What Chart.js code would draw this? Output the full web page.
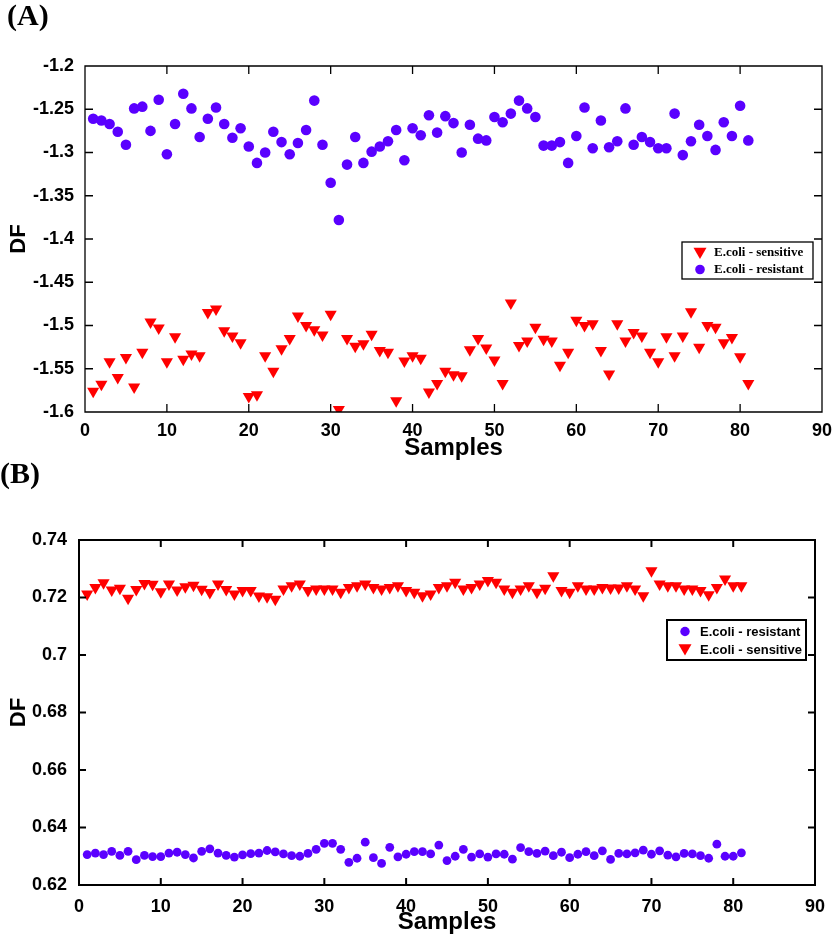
<!DOCTYPE html>
<html><head><meta charset="utf-8">
<script src="https://cdn.jsdelivr.net/npm/chart.js@4.4.1/dist/chart.umd.min.js"></script>
<style>
html,body{margin:0;padding:0;background:#fff;overflow:hidden;width:833px;height:934px;}
#wrapA{position:absolute;left:0;top:0;width:833px;height:460px;}
#wrapB{position:absolute;left:0;top:460px;width:833px;height:474px;}
canvas{display:block;}
</style></head><body>
<div id="wrapA"><canvas id="chartA" width="833" height="460"></canvas></div>
<div id="wrapB"><canvas id="chartB" width="833" height="474"></canvas></div>
<script>
// ---------- data ----------
const samples = [1,2,3,4,5,6,7,8,9,10,11,12,13,14,15,16,17,18,19,20,21,22,23,24,25,26,27,28,29,30,
  31,32,33,34,35,36,37,38,39,40,41,42,43,44,45,46,47,48,49,50,51,52,53,54,55,56,57,58,59,60,
  61,62,63,64,65,66,67,68,69,70,71,72,73,74,75,76,77,78,79,80,81];

// Panel (A)
const sensitiveA = [-1.576,-1.568,-1.542,-1.560,-1.537,-1.571,-1.531,-1.496,-1.503,-1.542,
  -1.513,-1.539,-1.533,-1.535,-1.485,-1.481,-1.506,-1.512,-1.520,-1.582,
  -1.580,-1.535,-1.553,-1.527,-1.515,-1.489,-1.500,-1.505,-1.511,-1.487,
  -1.597,-1.515,-1.524,-1.521,-1.510,-1.529,-1.531,-1.587,-1.541,-1.535,
  -1.538,-1.577,-1.567,-1.553,-1.557,-1.558,-1.528,-1.515,-1.526,-1.540,
  -1.567,-1.474,-1.523,-1.518,-1.502,-1.516,-1.518,-1.546,-1.531,-1.494,
  -1.500,-1.498,-1.529,-1.556,-1.498,-1.518,-1.508,-1.512,-1.531,-1.542,
  -1.513,-1.535,-1.512,-1.484,-1.525,-1.500,-1.502,-1.520,-1.514,-1.536,-1.567];
const resistantA = [-1.261,-1.263,-1.267,-1.276,-1.291,-1.249,-1.247,-1.275,-1.239,-1.302,
  -1.267,-1.232,-1.249,-1.282,-1.261,-1.248,-1.267,-1.283,-1.272,-1.293,
  -1.312,-1.300,-1.276,-1.288,-1.302,-1.289,-1.274,-1.240,-1.291,-1.335,
  -1.378,-1.314,-1.282,-1.312,-1.299,-1.293,-1.287,-1.274,-1.309,-1.272,
  -1.280,-1.257,-1.277,-1.258,-1.266,-1.300,-1.268,-1.284,-1.286,-1.259,
  -1.265,-1.255,-1.240,-1.249,-1.259,-1.292,-1.292,-1.288,-1.312,-1.281,
  -1.248,-1.295,-1.263,-1.294,-1.287,-1.249,-1.291,-1.282,-1.288,-1.295,
  -1.295,-1.255,-1.303,-1.287,-1.268,-1.281,-1.297,-1.265,-1.281,-1.246,-1.286];

// Panel (B)
const sensitiveB = [0.7212,0.7235,0.7251,0.7226,0.7232,0.7197,0.7228,0.7249,0.7246,0.7220,
  0.7247,0.7226,0.7237,0.7243,0.7229,0.7217,0.7247,0.7228,0.7212,0.7224,
  0.7224,0.7205,0.7203,0.7194,0.7230,0.7241,0.7247,0.7224,0.7230,0.7230,
  0.7230,0.7218,0.7235,0.7241,0.7247,0.7235,0.7230,0.7235,0.7241,0.7224,
  0.7218,0.7206,0.7212,0.7235,0.7241,0.7253,0.7230,0.7235,0.7247,0.7259,
  0.7253,0.7230,0.7218,0.7230,0.7241,0.7218,0.7232,0.7276,0.7224,0.7218,
  0.7241,0.7230,0.7230,0.7235,0.7233,0.7233,0.7241,0.7230,0.7206,0.7293,
  0.7247,0.7241,0.7241,0.7230,0.7230,0.7224,0.7210,0.7235,0.7264,0.7241,0.7241];
const resistantB = [0.6306,0.6311,0.6306,0.6317,0.6303,0.6317,0.6288,0.6303,0.6299,0.6299,
  0.6311,0.6314,0.6306,0.6294,0.6317,0.6326,0.6311,0.6303,0.6297,0.6305,
  0.6309,0.6311,0.6320,0.6315,0.6308,0.6302,0.6300,0.6310,0.6324,0.6345,
  0.6345,0.6324,0.6279,0.6293,0.6349,0.6295,0.6275,0.6331,0.6298,0.6307,
  0.6316,0.6316,0.6308,0.6339,0.6285,0.6300,0.6324,0.6297,0.6308,0.6297,
  0.6308,0.6307,0.6290,0.6330,0.6316,0.6310,0.6318,0.6302,0.6314,0.6295,
  0.6307,0.6316,0.6302,0.6319,0.6289,0.6310,0.6308,0.6312,0.6321,0.6307,
  0.6319,0.6304,0.6298,0.6310,0.6308,0.6302,0.6293,0.6342,0.6300,0.6300,0.6312];

// ticks
const xTickValues = [0,10,20,30,40,50,60,70,80,90];
const xTickLabels = ['0','10','20','30','40','50','60','70','80','90'];
const yTickValuesA = [-1.6,-1.55,-1.5,-1.45,-1.4,-1.35,-1.3,-1.25,-1.2];
const yTickLabelsA = ['-1.6','-1.55','-1.5','-1.45','-1.4','-1.35','-1.3','-1.25','-1.2'];
const yTickValuesB = [0.62,0.64,0.66,0.68,0.70,0.72,0.74];
const yTickLabelsB = ['0.62','0.64','0.66','0.68','0.7','0.72','0.74'];

const labelSensitive = 'E.coli - sensitive';
const labelResistant = 'E.coli - resistant';

// ---------- styles ----------
const RED = '#ff0000';
const PURPLE = '#5a00ff';
const SANS = '"Liberation Sans", Arial, Helvetica, sans-serif';
const SERIF = '"Liberation Serif", "Times New Roman", Times, serif';

function lookup(vals, labels) {
  return function (v) {
    for (let i = 0; i < vals.length; i++) if (Math.abs(vals[i] - v) < 1e-9) return labels[i];
    return '';
  };
}
function setTicks(vals) {
  return function (scale) { scale.ticks = vals.map(v => ({ value: v })); };
}

function drawMarker(ctx, style, rotation, r, x, y) {
  if (Chart.helpers && Chart.helpers.drawPoint) {
    Chart.helpers.drawPoint(ctx, { pointStyle: style, rotation: rotation, radius: r, borderWidth: 0 }, x, y);
    return;
  }
  ctx.beginPath();
  if (style === 'circle') { ctx.arc(x, y, r, 0, Math.PI * 2); }
  else { ctx.moveTo(x, y + r); ctx.lineTo(x - r * 0.866, y - r / 2); ctx.lineTo(x + r * 0.866, y - r / 2); ctx.closePath(); }
  ctx.fill();
}

const frameTicks = {
  id: 'frameTicks',
  afterDraw(chart, args, o) {
    const { ctx, chartArea: a } = chart;
    const x = chart.scales.x, y = chart.scales.y;
    ctx.save();
    ctx.strokeStyle = '#000';
    ctx.lineWidth = o.lineWidth;
    ctx.beginPath();
    ctx.rect(a.left, a.top, a.right - a.left, a.bottom - a.top);
    const L = o.tickLength;
    x.ticks.forEach(t => {
      const p = x.getPixelForValue(t.value);
      if (p <= a.left + 1 || p >= a.right - 1) return;
      ctx.moveTo(p, a.bottom); ctx.lineTo(p, a.bottom - L);
      ctx.moveTo(p, a.top); ctx.lineTo(p, a.top + L);
    });
    y.ticks.forEach(t => {
      const p = y.getPixelForValue(t.value);
      if (p <= a.top + 1 || p >= a.bottom - 1) return;
      ctx.moveTo(a.left, p); ctx.lineTo(a.left + L, p);
      ctx.moveTo(a.right, p); ctx.lineTo(a.right - L, p);
    });
    ctx.stroke();
    ctx.restore();
  }
};

const boxLegend = {
  id: 'boxLegend',
  afterDraw(chart, args, o) {
    const ctx = chart.ctx;
    ctx.save();
    ctx.fillStyle = '#fff';
    ctx.fillRect(o.x, o.y, o.w, o.h);
    ctx.strokeStyle = '#000';
    ctx.lineWidth = o.lineWidth;
    ctx.strokeRect(o.x, o.y, o.w, o.h);
    o.order.forEach((di, i) => {
      const ds = chart.data.datasets[di];
      const cy = o.rowY[i];
      ctx.fillStyle = ds.backgroundColor;
      drawMarker(ctx, ds.pointStyle, ds.rotation || 0, o.markerRadius[i], o.markerX, o.markerY[i]);
      ctx.fillStyle = '#000';
      ctx.font = o.font;
      ctx.textBaseline = 'middle';
      ctx.textAlign = 'left';
      ctx.fillText(ds.label, o.textX, cy);
    });
    ctx.restore();
  }
};

function pts(vals) { return samples.map((s, i) => ({ x: s, y: vals[i] })); }

function sensitiveDs(vals, r) {
  return { label: labelSensitive, data: pts(vals), pointStyle: 'triangle', rotation: 180,
    pointRadius: r, pointBorderWidth: 0, backgroundColor: RED, borderColor: RED, pointHoverRadius: r };
}
function resistantDs(vals, r) {
  return { label: labelResistant, data: pts(vals), pointStyle: 'circle',
    pointRadius: r, pointBorderWidth: 0, backgroundColor: PURPLE, borderColor: PURPLE, pointHoverRadius: r };
}

function axes(o) {
  return {
    x: {
      type: 'linear', min: 0, max: 90,
      afterBuildTicks: setTicks(xTickValues),
      afterFit: s => { s.height = o.xHeight; },
      grid: { display: false }, border: { display: false },
      ticks: { autoSkip: false, maxRotation: 0, minRotation: 0, padding: o.xPad, color: '#000',
        font: { family: SANS, weight: 'bold', size: o.tickSize },
        callback: lookup(xTickValues, xTickLabels) },
      title: { display: true, text: 'Samples', color: '#000',
        font: { family: SANS, weight: 'bold', size: 24, lineHeight: 1 }, padding: { top: 0, bottom: 0 } }
    },
    y: {
      type: 'linear', min: o.yMin, max: o.yMax,
      afterBuildTicks: setTicks(o.yVals),
      afterFit: s => { s.width = o.yWidth; },
      grid: { display: false }, border: { display: false },
      ticks: { autoSkip: false, padding: o.yPad, color: '#000',
        font: { family: SANS, weight: 'bold', size: o.tickSize },
        callback: lookup(o.yVals, o.yLabels) },
      title: { display: true, text: 'DF', color: '#000',
        font: { family: SANS, weight: 'bold', size: 22, lineHeight: 1 }, padding: { top: o.dfPad, bottom: 0 } }
    }
  };
}

Chart.defaults.devicePixelRatio = 1;

new Chart(document.getElementById('chartA'), {
  type: 'scatter',
  data: { datasets: [sensitiveDs(sensitiveA, 7), resistantDs(resistantA, 5.3)] },
  options: {
    responsive: false, animation: false, devicePixelRatio: 1,
    layout: { padding: { left: 7, right: 11, top: 0, bottom: 0 } },
    plugins: {
      legend: { display: false }, tooltip: { enabled: false },
      title: { display: true, text: '(A)', align: 'start', color: '#000',
        font: { family: SERIF, weight: 'bold', size: 30, lineHeight: 1 }, padding: { top: 2, bottom: 34 } },
      frameTicks: { lineWidth: 1.3, tickLength: 8 },
      boxLegend: { x: 682, y: 242, w: 131, h: 37, lineWidth: 1.3, order: [0, 1],
        rowY: [253, 270], markerY: [251.5, 269.5], markerX: 700, markerRadius: [7.5, 4.8], textX: 714,
        font: 'bold 13px ' + SERIF }
    },
    scales: axes({ xHeight: 48, xPad: 0.5, yPad: 3, tickSize: 18, yWidth: 78, dfPad: 1,
      yMin: -1.6, yMax: -1.2, yVals: yTickValuesA, yLabels: yTickLabelsA })
  },
  plugins: [frameTicks, boxLegend]
});

new Chart(document.getElementById('chartB'), {
  type: 'scatter',
  data: { datasets: [resistantDs(resistantB, 4.4), sensitiveDs(sensitiveB, 7)] },
  options: {
    responsive: false, animation: false, devicePixelRatio: 1,
    layout: { padding: { left: 0, right: 18, top: 0, bottom: 0 } },
    plugins: {
      legend: { display: false }, tooltip: { enabled: false },
      title: { display: true, text: '(B)', align: 'start', color: '#000',
        font: { family: SERIF, weight: 'bold', size: 30, lineHeight: 1 }, padding: { top: 0, bottom: 50 } },
      frameTicks: { lineWidth: 2, tickLength: 7 },
      boxLegend: { x: 667, y: 160, w: 139, h: 40, lineWidth: 2, order: [0, 1],
        rowY: [172, 190], markerY: [171.5, 188], markerX: 685, markerRadius: [4.7, 7.5], textX: 700,
        font: 'bold 13px ' + SANS }
    },
    scales: axes({ xHeight: 49, xPad: 3.5, yPad: 4, tickSize: 18, yWidth: 79, dfPad: 8,
      yMin: 0.62, yMax: 0.74, yVals: yTickValuesB, yLabels: yTickLabelsB })
  },
  plugins: [frameTicks, boxLegend]
});
</script>
</body></html>
